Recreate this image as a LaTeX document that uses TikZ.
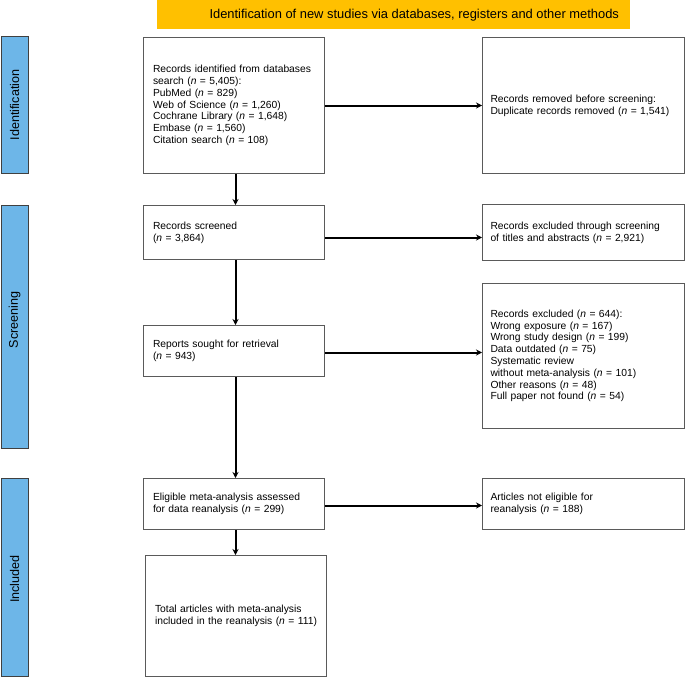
\documentclass[tikz,border=0pt]{standalone}
\usepackage{fontspec}
\setmainfont{Liberation Sans}
\usepackage{xcolor}
\usetikzlibrary{arrows.meta}

\definecolor{bannerorange}{HTML}{FFC000}
\definecolor{phaseblue}{HTML}{6DB6E8}
\definecolor{boxgray}{HTML}{5A5A5A}

\begin{document}
\begin{tikzpicture}[x=1pt,y=-1pt,
    font=\fontsize{10.3}{11.8}\selectfont,
    flowbox/.style={draw=boxgray, line width=1pt, fill=white, inner sep=0pt,
      align=left, anchor=north west},
    leftbox/.style={flowbox, minimum width=181pt, text width=162pt, inner xsep=9.5pt},
    rightbox/.style={flowbox, minimum width=202pt, text width=186pt, inner xsep=8pt},
    phase/.style={draw=black!75, line width=1pt, fill=phaseblue},
    phaselbl/.style={rotate=90, font=\fontsize{12.6}{14}\selectfont},
    flowarrow/.style={line width=2pt, -{Stealth[length=6pt,width=6pt]}}]
    \useasboundingbox (0,0) rectangle (685,677);

    % banner and phase bars
    \fill[bannerorange] (157,0) rectangle (630,29);
    \node[anchor=west, font=\fontsize{12.9}{14}\selectfont] (title) at (206,15)
      {Identification of new studies via databases, registers and other methods};

    \draw[phase] (1,37) rectangle (28,173);
    \node[phaselbl] (identlbl) at (14.5,105) {Identification};
    \draw[phase] (1,205) rectangle (28,448);
    \node[phaselbl] (screenlbl) at (14.5,320) {Screening};
    \draw[phase] (1,478) rectangle (28,676.5);
    \node[phaselbl] (inclbl) at (14.5,579) {Included};

    % left column
    \node[leftbox, minimum height=136pt] (ident) at (143,37)
      {Records identified from databases\\search (\textit{n} = 5,405):\\PubMed (\textit{n} = 829)\\
       Web of Science (\textit{n} = 1,260)\\Cochrane Library (\textit{n} = 1,648)\\
       Embase (\textit{n} = 1,560)\\Citation search (\textit{n} = 108)};
    \node[leftbox, minimum height=54pt] (screened) at (143,205)
      {Records screened\\(\textit{n} = 3,864)};
    \node[leftbox, minimum height=51pt] (reports) at (143,325)
      {Reports sought for retrieval\\(\textit{n} = 943)};
    \node[leftbox, minimum height=51pt] (eligible) at (143,478)
      {Eligible meta-analysis assessed\\for data reanalysis (\textit{n} = 299)};
    \node[leftbox, minimum height=121pt] (total) at (145,555)
      {Total articles with meta-analysis\\included in the reanalysis (\textit{n} = 111)};

    % right column
    \node[rightbox, minimum height=136pt] (removed) at (482,37)
      {Records removed before screening:\\Duplicate records removed (\textit{n} = 1,541)};
    \node[rightbox, minimum height=56pt] (extitles) at (482,204)
      {Records excluded through screening\\of titles and abstracts (\textit{n} = 2,921)};
    \node[rightbox, minimum height=145pt] (excluded) at (482,283)
      {Records excluded (\textit{n} = 644):\\Wrong exposure (\textit{n} = 167)\\
       Wrong study design (\textit{n} = 199)\\Data outdated (\textit{n} = 75)\\
       Systematic review\\without meta-analysis (\textit{n} = 101)\\
       Other reasons (\textit{n} = 48)\\Full paper not found (\textit{n} = 54)\\[8pt]};
    \node[rightbox, minimum height=51pt] (noteligible) at (482,478)
      {Articles not eligible for\\reanalysis (\textit{n} = 188)};

    % arrows
    \draw[flowarrow] ([xshift=1.5pt]ident.south) -- ([xshift=1.5pt]ident.south |- screened.north);
    \draw[flowarrow] ([xshift=1.5pt]screened.south) -- ([xshift=1.5pt]screened.south |- reports.north);
    \draw[flowarrow] ([xshift=1.5pt]reports.south) -- ([xshift=1.5pt]reports.south |- eligible.north);
    \draw[flowarrow] ([xshift=1.5pt]eligible.south) -- ([xshift=1.5pt]eligible.south |- total.north);

    \draw[flowarrow] (ident.east) -- (ident.east -| removed.west);
    \draw[flowarrow] ([yshift=-5pt]screened.east) -- ([yshift=-5pt]screened.east -| extitles.west);
    \draw[flowarrow] ([yshift=-1.5pt]reports.east) -- ([yshift=-1.5pt]reports.east -| excluded.west);
    \draw[flowarrow] ([yshift=-1.5pt]eligible.east) -- ([yshift=-1.5pt]eligible.east -| noteligible.west);
\end{tikzpicture}
\end{document}
